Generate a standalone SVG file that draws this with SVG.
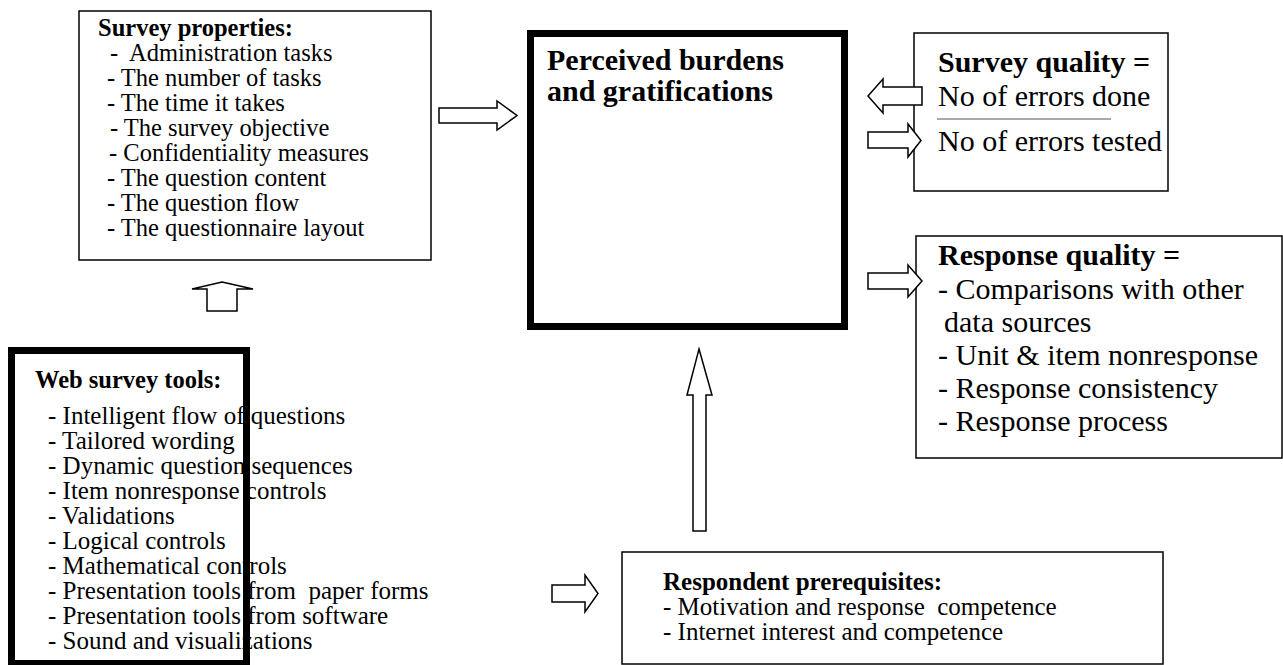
<svg xmlns="http://www.w3.org/2000/svg" width="1283" height="665" viewBox="0 0 1283 665">
<style>
  .box { fill: #ffffff; stroke: #000000; stroke-width: 1.5; }
  .thick { fill: #ffffff; stroke: #000000; stroke-width: 7; }
  .arrow { fill: #ffffff; stroke: #000000; stroke-width: 1.5; stroke-linejoin: miter; }
  text { font-family: "Liberation Serif", "Times New Roman", serif; fill: #000000; }
  .b { font-weight: bold; }
  .s24 { font-size: 24.5px; }
  .s25 { font-size: 25px; }
  .s30 { font-size: 30px; }
</style>
<rect width="1283" height="665" fill="#ffffff"/>

<g id="survey-properties">
  <rect class="box" x="79" y="11" width="352" height="249"/>
  <text class="b s24" x="98" y="36">Survey properties:</text>
  <text class="s24" xml:space="preserve"><tspan x="110" y="61">-  Administration tasks</tspan><tspan x="107" y="86">- The number of tasks</tspan><tspan x="107" y="111">- The time it takes</tspan><tspan x="110" y="136">- The survey objective</tspan><tspan x="109" y="161">- Confidentiality measures</tspan><tspan x="107" y="186">- The question content</tspan><tspan x="107" y="211">- The question flow</tspan><tspan x="107" y="236">- The questionnaire layout</tspan></text>
</g>

<g id="perceived-burdens">
  <rect class="thick" x="530.5" y="33.5" width="314" height="293"/>
  <text class="b s30" x="547" y="70">Perceived burdens</text>
  <text class="b s30" x="547" y="101">and gratifications</text>
</g>

<g id="survey-quality">
  <rect class="box" x="914" y="33" width="254" height="158"/>
  <text class="b s30" x="938" y="72">Survey quality =</text>
  <text class="s30" x="938" y="106">No of errors done</text>
  <line x1="937" y1="119" x2="1111" y2="119" stroke="#555555" stroke-width="1"/>
  <text class="s30" x="938" y="151">No of errors tested</text>
</g>

<g id="response-quality">
  <rect class="box" x="916" y="236" width="366" height="222"/>
  <text class="b s30" x="938" y="265">Response quality =</text>
  <text class="s30" xml:space="preserve"><tspan x="938" y="299">- Comparisons with other</tspan><tspan x="944" y="332">data sources</tspan><tspan x="938" y="365">- Unit &amp; item nonresponse</tspan><tspan x="938" y="398">- Response consistency</tspan><tspan x="938" y="431">- Response process</tspan></text>
</g>

<g id="web-survey-tools">
  <rect class="thick" x="11.5" y="350.5" width="235" height="313"/>
  <text class="b s24" x="35" y="388">Web survey tools:</text>
  <text class="s25" xml:space="preserve"><tspan x="48" y="424">- Intelligent flow of questions</tspan><tspan x="48" y="449">- Tailored wording</tspan><tspan x="48" y="474">- Dynamic question sequences</tspan><tspan x="48" y="499">- Item nonresponse controls</tspan><tspan x="48" y="524">- Validations</tspan><tspan x="48" y="549">- Logical controls</tspan><tspan x="48" y="574">- Mathematical controls</tspan><tspan x="48" y="599">- Presentation tools from  paper forms</tspan><tspan x="48" y="624">- Presentation tools from software</tspan><tspan x="48" y="649">- Sound and visualizations</tspan></text>
</g>

<g id="respondent-prerequisites">
  <rect class="box" x="622" y="552" width="541" height="112"/>
  <text class="b s25" x="663" y="590">Respondent prerequisites:</text>
  <text class="s25" xml:space="preserve"><tspan x="663" y="615">- Motivation and response  competence</tspan><tspan x="663" y="640">- Internet interest and competence</tspan></text>
</g>

<g id="connectors">
  <path class="arrow" d="M439,108 H497 V101 L517,115.5 L497,130 V123 H439 Z"/>
  <path class="arrow" d="M868,96 L883,79 V87 H922 V105 H883 V113 Z"/>
  <path class="arrow" d="M868,132 H908 V124 L921,140.5 L908,157 V148 H868 Z"/>
  <path class="arrow" d="M868,273 H908 V265 L922,281 L908,297 V289 H868 Z"/>
  <path class="arrow" d="M222,282 L253,289 H237 V311 H207 V289 H192 Z"/>
  <path class="arrow" d="M699,349 L712,395 H706 V531 H693 V395 H687 Z"/>
  <path class="arrow" d="M552,585 H585 V575 L598,593.5 L585,612 V602 H552 Z"/>
</g>
</svg>
